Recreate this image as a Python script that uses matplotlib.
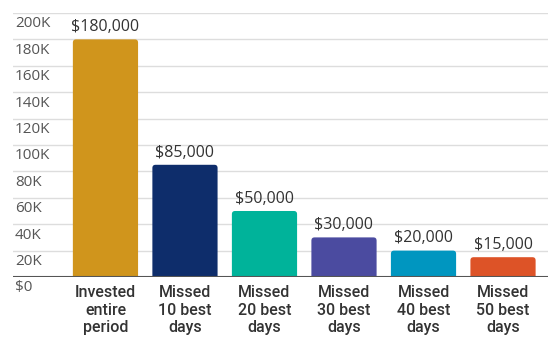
import matplotlib.pyplot as plt
from matplotlib.patches import FancyBboxPatch

# Chart data
categories = ["Invested\nentire\nperiod", "Missed\n10 best\ndays", "Missed\n20 best\ndays",
              "Missed\n30 best\ndays", "Missed\n40 best\ndays", "Missed\n50 best\ndays"]
values = [180000, 85000, 50000, 30000, 20000, 15000]
value_labels = ["$180,000", "$85,000", "$50,000", "$30,000", "$20,000", "$15,000"]
colors = ["#D0951C", "#0E2D6B", "#00B39A", "#4B4BA0", "#0096C0", "#DD5327"]
yticks = [0, 20000, 40000, 60000, 80000, 100000, 120000, 140000, 160000, 180000, 200000]
ytick_labels = ["$0", "20K", "40K", "60K", "80K", "100K", "120K", "140K", "160K", "180K", "200K"]

plt.rcParams['font.family'] = ['Open Sans', 'DejaVu Sans']

fig = plt.figure(figsize=(5.6, 3.5), dpi=100)
ax = fig.add_axes([0.0232, 0.2086, 0.9554, 0.7543])
ax.set_xlim(-1.163, 5.566)
ax.set_ylim(0, 200000)

# gridlines + tick labels sitting just under each line
for t, lab in zip(yticks, ytick_labels):
    if t > 0:
        ax.axhline(t, color="#dddddd", lw=1, zorder=0)
    ax.annotate(lab, xy=(0, t), xycoords=("axes fraction", "data"),
                xytext=(1.5, -2.5), textcoords="offset points",
                ha="left", va="top", fontsize=11, color="#555555",
                annotation_clip=False)

# bars with slightly rounded corners
width = 0.82
y_per_px = 200000 / 264.0
x_per_px = 1 / 79.5
aspect = y_per_px / x_per_px
for i, (v, c) in enumerate(zip(values, colors)):
    ext = 3000
    p = FancyBboxPatch((i - width / 2, -ext), width, v + ext,
                       boxstyle="round,pad=0,rounding_size=0.04",
                       mutation_aspect=aspect, fc=c, ec="none", zorder=2)
    ax.add_patch(p)
    ax.annotate(value_labels[i], xy=(i, v), xytext=(0, 3), textcoords="offset points",
                ha="center", va="bottom", fontsize=11.5, color="#333333")

ax.axhline(0, color="#555555", lw=1.5, zorder=3)

ax.set_xticks(range(len(categories)))
ax.set_xticklabels(categories, fontsize=11.5, color="#333333", fontweight="medium",
                   family=["Roboto", "DejaVu Sans"], linespacing=1.2)
ax.tick_params(axis="x", length=0, pad=6)
ax.set_yticks([])
for s in ax.spines.values():
    s.set_visible(False)

plt.savefig("out.png", dpi=100)
